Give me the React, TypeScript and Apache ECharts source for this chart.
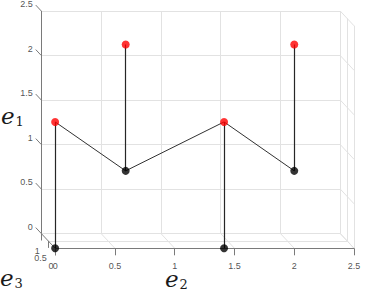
import React, { useEffect, useRef } from "react";
import * as echarts from "echarts";

// ---- data ----
const e2Values = [0, 0.59, 1.413, 2.0];
const e1Upper = [1.42, 2.29, 1.42, 2.29];
const e1Lower = [0, 0.87, 0, 0.87];
const pointE3 = 0;

const e1Ticks = [0, 0.5, 1, 1.5, 2, 2.5];
const e2Ticks = [0, 0.5, 1, 1.5, 2, 2.5];
const e3Ticks = [0, 0.5, 1];

const E_MAX = 2.5;
const E3_MAX = 1;

// oblique projection of the 3D box onto the page plane
const DX = 14 / 121;
const DY = 14.8 / 89;
const proj = (e2: number, e1: number, e3: number) => [e2 - e3 * DX, e1 + e3 * DY];

type P3 = [number, number, number];

export default function App() {
  const ref = useRef<HTMLDivElement>(null);
  useEffect(() => {
    if (!ref.current) return;
    const chart = echarts.init(ref.current, undefined, { renderer: "svg" });

    const seg = (a: P3, b: P3) => ({ coords: [proj(...a), proj(...b)] });

    const gridSegs: any[] = [];
    // back wall (e3 = max)
    e1Ticks.forEach((t) => gridSegs.push(seg([0, t, E3_MAX], [E_MAX, t, E3_MAX])));
    e2Ticks.filter((t) => t > 0).forEach((t) => gridSegs.push(seg([t, 0, E3_MAX], [t, E_MAX, E3_MAX])));
    // floor (e1 = 0)
    e3Ticks.filter((s) => s > 0).forEach((s) => gridSegs.push(seg([0, 0, s], [E_MAX, 0, s])));
    e2Ticks.filter((t) => t > 0).forEach((t) => gridSegs.push(seg([t, 0, 0], [t, 0, E3_MAX])));
    // right wall (e2 = max)
    e1Ticks.forEach((t) => gridSegs.push(seg([E_MAX, t, 0], [E_MAX, t, E3_MAX])));
    e3Ticks.forEach((s) => gridSegs.push(seg([E_MAX, 0, s], [E_MAX, E_MAX, s])));

    const axisSegs: any[] = [
      seg([0, 0, E3_MAX], [0, E_MAX, E3_MAX]),
      seg([0, 0, 0], [E_MAX, 0, 0]),
      seg([0, 0, 0], [0, 0, E3_MAX]),
    ];
    const tickDown = 7 / 89;
    e1Ticks.forEach((t) => axisSegs.push(seg([0, t, E3_MAX], [0, t, E3_MAX + 0.4])));
    e2Ticks.forEach((t) => axisSegs.push(seg([t, 0, 0], [t, -tickDown, 0])));
    e3Ticks.forEach((s) => axisSegs.push(seg([0, 0, s], [0, -tickDown, s])));

    const stemSegs = e2Values.map((x, i) => seg([x, e1Upper[i], pointE3], [x, e1Lower[i], pointE3]));
    const zigzag = e2Values.map((x, i) => proj(x, i % 2 === 0 ? e1Upper[i] : e1Lower[i], pointE3));

    const tickFont = { fontSize: 9, color: "#262626", fontFamily: "Liberation Sans", textBorderWidth: 0 };

    const serif = "DejaVu Serif";
    const title = (x: number, y: number, main: string, sub: string) => [
      {
        type: "text",
        x,
        y,
        silent: true,
        style: { text: main, fontSize: 23, fontStyle: "italic", fontFamily: serif, fill: "#1a1a1a", textVerticalAlign: "middle", textAlign: "left" },
      },
      {
        type: "text",
        x: x + 14.5,
        y: y + 5.5,
        silent: true,
        style: { text: sub, fontSize: 13, fontFamily: serif, fill: "#1a1a1a", textVerticalAlign: "middle", textAlign: "left" },
      },
    ];

    chart.setOption({
      animation: false,
      grid: { left: 7.3, width: 363, top: 3.55, height: 280.35 },
      xAxis: { type: "value", min: -0.4, max: 2.6, show: false },
      yAxis: { type: "value", min: -0.4, max: 2.75, show: false },
      graphic: [...title(1, 115.5, "e", "1"), ...title(0, 277.5, "e", "3"), ...title(165, 278.5, "e", "2")],
      series: [
        {
          type: "lines",
          coordinateSystem: "cartesian2d",
          silent: true,
          z: 1,
          lineStyle: { color: "#e2e2e2", width: 1, opacity: 1 },
          data: gridSegs,
        },
        {
          type: "lines",
          coordinateSystem: "cartesian2d",
          silent: true,
          z: 2,
          lineStyle: { color: "#7a7a7a", width: 1, opacity: 1 },
          data: axisSegs,
        },
        {
          type: "lines",
          coordinateSystem: "cartesian2d",
          silent: true,
          z: 3,
          lineStyle: { color: "#262626", width: 1.2, opacity: 1 },
          data: stemSegs,
        },
        {
          type: "line",
          silent: true,
          z: 3,
          symbol: "none",
          clip: false,
          lineStyle: { color: "#1a1a1a", width: 0.9 },
          data: zigzag,
        },
        {
          type: "scatter",
          silent: true,
          z: 4,
          symbolSize: 8,
          itemStyle: { color: "#000000" },
          data: e2Values.map((x, i) => proj(x, e1Lower[i], pointE3)),
        },
        {
          type: "scatter",
          silent: true,
          z: 5,
          symbolSize: 8,
          itemStyle: { color: "#ff0000" },
          data: e2Values.map((x, i) => proj(x, e1Upper[i], pointE3)),
        },
        {
          type: "scatter",
          silent: true,
          symbolSize: 0,
          z: 6,
          label: { show: true, position: "left", distance: 3, offset: [0, -1], formatter: "{b}", ...tickFont },
          data: e1Ticks.map((t) => ({ name: String(t), value: proj(0, t, E3_MAX + 0.4) })),
        },
        {
          type: "scatter",
          silent: true,
          symbolSize: 0,
          z: 6,
          label: { show: true, position: "inside", offset: [0, 18], formatter: "{b}", ...tickFont },
          data: e2Ticks.map((t) => ({ name: String(t), value: proj(t, 0, 0) })),
        },
        {
          type: "scatter",
          silent: true,
          symbolSize: 0,
          z: 6,
          label: { show: true, position: "inside", align: "right", offset: [-1.5, 17.5], formatter: "{b}", ...tickFont },
          data: e3Ticks.map((s) => ({ name: String(s), value: proj(0, 0, s) })),
        },
      ],
    });
    return () => chart.dispose();
  }, []);
  return <div ref={ref} style={{ position: "fixed", left: 0, top: 0, width: 366, height: 290, background: "#fff" }} />;
}
